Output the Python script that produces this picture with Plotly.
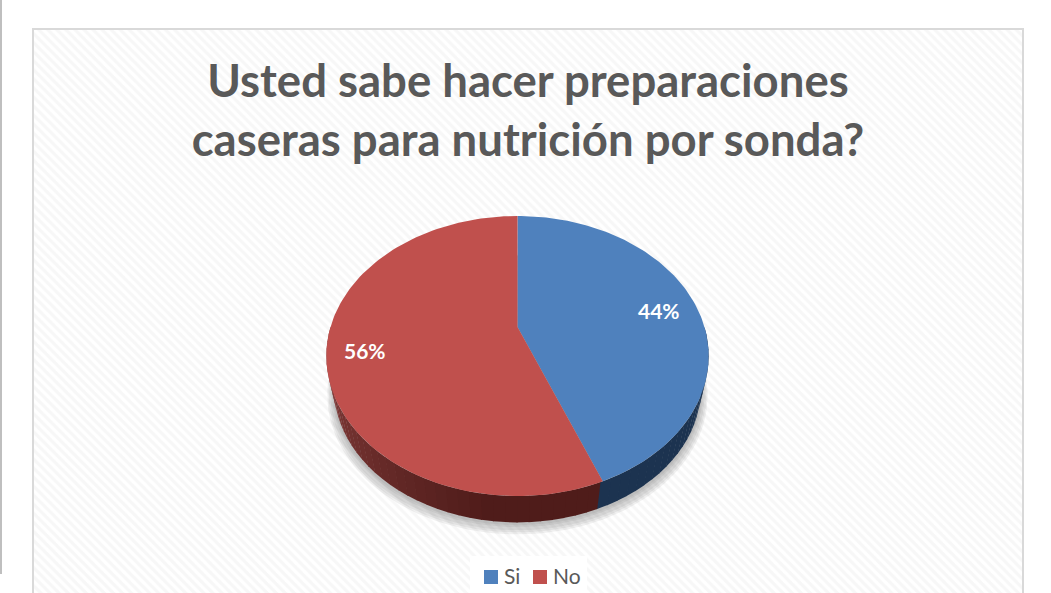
import numpy as np
import plotly.graph_objects as go

title = "Usted sabe hacer preparaciones<br>caseras para nutrición por sonda?"
labels = ["Si", "No"]
values = [44, 56]
top_colors = ["#4f81bd", "#c0504d"]
text_color = "#595959"

W, H = 1051, 593

# disc geometry, the near edge is larger because of the 3d perspective
CX, TOP_Y, APEX_Y, BOTTOM_Y, K = 517.5, 216, 327, 496, 187
MID_Y = (TOP_Y + BOTTOM_Y) / 2
C = (2 * APEX_Y - TOP_Y - BOTTOM_Y) / (TOP_Y - BOTTOM_Y)
A = TOP_Y * (1 + C) - APEX_Y
WALL_SCALE, WALL_SHIFT = 0.96, 32


def project(theta, r=1.0):
    x = r * np.sin(theta)
    y = r * np.cos(theta)
    d = 1 + C * y
    return CX + K * x / d, (A * y + APEX_Y) / d


def lower(theta, grow=0.0):
    px, py = project(theta)
    s = WALL_SCALE + grow
    return CX + (px - CX) * s, MID_Y + (py - MID_Y) * s + WALL_SHIFT


def mix(c1, c2, t):
    a = [int(c1[i:i + 2], 16) for i in (1, 3, 5)]
    b = [int(c2[i:i + 2], 16) for i in (1, 3, 5)]
    return "rgb(%d,%d,%d)" % tuple(a[i] + (b[i] - a[i]) * t for i in range(3))


def filled(x, y, color):
    return go.Scatter(
        x=x, y=y, mode="lines", fill="toself", fillcolor=color,
        line=dict(width=0), hoverinfo="skip", showlegend=False
    )


fig = go.Figure()

# hatched panel
fig.add_trace(go.Scatter(
    x=[34, 1022, 1022, 34, 34], y=[30, 30, H + 5, H + 5, 30],
    mode="lines", fill="toself", line=dict(width=0),
    fillcolor="#ffffff", hoverinfo="skip", showlegend=False,
    fillpattern=dict(shape="\\", fgcolor="#f0f0f0", bgcolor="#ffffff",
                     size=6.4, solidity=0.5),
))

# legend box
fig.add_trace(filled([470, 587, 587, 470, 470], [556, 556, H + 5, H + 5, 556], "#ffffff"))

fracs = np.cumsum([0] + values) / sum(values) * 2 * np.pi

# soft shadow under the wall
all_t = np.linspace(0, 2 * np.pi, 181)
for grow, shift in [(0.035, 7), (0.028, 6), (0.02, 5), (0.012, 3), (0.006, 2)]:
    sx, sy = lower(all_t, grow)
    fig.add_trace(filled(sx, sy + shift, "rgba(90,90,90,0.09)"))

# side wall, cut in strips for the shading
wall_from, wall_to = np.pi * 0.5, np.pi * 1.5
edges = np.linspace(wall_from, wall_to, 61)
for t0, t1 in zip(edges[:-1], edges[1:]):
    tt = np.linspace(t0, t1 + 0.004, 4)
    mid = (t0 + t1) / 2
    tx, ty = project(tt)
    bx, by = lower(tt)
    if mid < fracs[1]:
        color = "#1c3350"
    else:
        u = (mid - fracs[1]) / (wall_to - fracs[1])
        color = mix("#4f1c1a", "#8e4341", min(1, max(0, (u - 0.25) / 0.75)))
    fig.add_trace(filled(
        np.r_[tx, bx[::-1], tx[0]], np.r_[ty, by[::-1], ty[0]], color
    ))

# top of the pie
for i, name in enumerate(labels):
    tt = np.linspace(fracs[i], fracs[i + 1], 120)
    px, py = project(tt)
    ax, ay = project(np.array([0.0]), 0.0)
    fig.add_trace(filled(np.r_[ax, px, ax], np.r_[ay, py, ay], top_colors[i]))

# percent labels
for i, v in enumerate(values):
    lx, ly = project((fracs[i] + fracs[i + 1]) / 2, 0.8)
    fig.add_annotation(
        x=lx - 1, y=ly + 3, text=f"<b>{v}%</b>", showarrow=False,
        font=dict(family="Lato, Carlito, sans-serif", size=21, color="#ffffff")
    )

# legend entries
fig.add_trace(go.Scatter(
    x=[491, 540], y=[577, 577], mode="markers",
    marker=dict(symbol="square", size=14, color=top_colors, line=dict(width=0)),
    hoverinfo="skip", showlegend=False, cliponaxis=False
))
fig.add_trace(go.Scatter(
    x=[504, 553], y=[579, 579], mode="text",
    text=labels, textposition="middle right",
    textfont=dict(family="Lato, Carlito, sans-serif", size=21, color=text_color),
    hoverinfo="skip", showlegend=False, cliponaxis=False
))

fig.update_layout(
    width=W, height=H,
    margin=dict(l=0, r=0, t=0, b=0),
    paper_bgcolor="#ffffff", plot_bgcolor="#ffffff",
    showlegend=False,
    title=dict(
        text=f"<b>{title}</b>", x=528 / W, y=1 - 97 / H,
        xanchor="center", yanchor="middle",
        font=dict(family="Lato, Carlito, sans-serif", size=45.5, color=text_color)
    ),
    shapes=[
        dict(type="rect", xref="x", yref="y", x0=33, x1=1023, y0=29, y1=H + 5,
             line=dict(color="#d9d9d9", width=2), layer="above"),
        dict(type="line", xref="x", yref="y", x0=1, x1=1, y0=0, y1=574,
             line=dict(color="#bfbfbf", width=2), layer="above"),
    ],
)
fig.update_xaxes(range=[0, W], visible=False, fixedrange=True)
fig.update_yaxes(range=[H, 0], visible=False, fixedrange=True)

fig.write_html(
    "out.html",
    config=dict(displayModeBar=False),
    post_script="document.body.style.margin = '0';",
)
